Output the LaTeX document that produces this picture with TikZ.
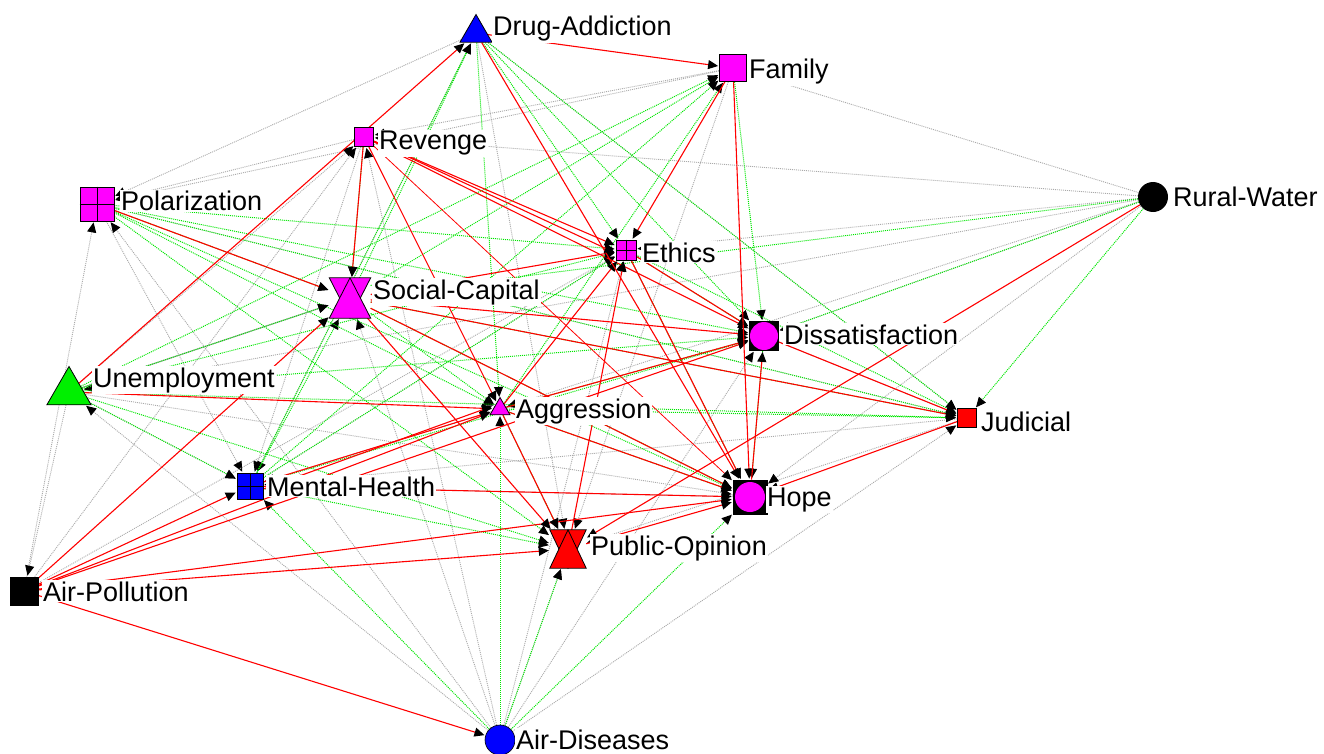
\documentclass[tikz,border=0pt]{standalone}
\usepackage{fontspec}
\setmainfont{Liberation Sans}
\usetikzlibrary{shapes.geometric,arrows.meta}
\pgfdeclarelayer{bg}
\pgfsetlayers{bg,main}
\definecolor{grn}{RGB}{0,230,0}
\definecolor{gry}{RGB}{170,170,170}
\definecolor{ugreen}{RGB}{0,240,0}
\definecolor{mag}{RGB}{255,0,255}
\definecolor{rd}{RGB}{255,0,0}
\definecolor{bl}{RGB}{0,0,255}
\begin{document}
\begin{tikzpicture}[x=1pt,y=-1pt,
  lbl/.style={anchor=base west,font=\fontsize{27}{30}\selectfont,fill=white,inner sep=1pt,text=black},
  sq/.style={draw=black,line width=0.8pt,rectangle,inner sep=0pt},
  tri/.style={draw=black,line width=0.8pt,regular polygon,regular polygon sides=3,inner sep=0pt},
  circ/.style={circle,inner sep=0pt},
  hg/.style={rectangle,inner sep=0pt},
  tipb/.style={-{Triangle[length=10pt,width=9pt,color=black]},shorten >=1pt},
  redE/.style={tipb,draw=rd,line width=1.1pt},
  grnE/.style={tipb,draw=grn,line width=1pt,dash pattern=on 1pt off 1pt},
  gryE/.style={tipb,draw=gry,line width=0.9pt,dash pattern=on 1pt off 1pt},
]
\useasboundingbox (0,0) rectangle (1324,754);
% ---------- node shapes ----------
\node[tri,fill=bl,minimum size=37pt] (DA) at (476,33) {};
\node[sq,fill=mag,minimum size=27pt] (FA) at (733,68) {};
\node[sq,fill=mag,minimum size=19pt] (RE) at (364,137) {};
\node[sq,fill=mag,minimum size=34pt] (PZ) at (97,204) {};
\draw[line width=0.8pt] (PZ.north) -- (PZ.south) (PZ.west) -- (PZ.east);
\node[circ,fill=black,minimum size=30pt] (RW) at (1153,197) {};
\node[sq,fill=mag,minimum size=20pt] (ET) at (626,250) {};
\draw[line width=0.8pt] (ET.north) -- (ET.south) (ET.west) -- (ET.east);
\node[hg,minimum width=41pt,minimum height=40pt] (SC) at (350,298) {};
\filldraw[fill=mag,draw=black,line width=0.8pt] (SC.north west) -- (SC.north east) -- (SC.south) -- cycle;
\filldraw[fill=mag,draw=black,line width=0.8pt] (SC.south west) -- (SC.south east) -- (SC.north) -- cycle;
\node[sq,fill=black,minimum size=29pt] (DI) at (764,336) {};
\node[circ,fill=mag,minimum size=28pt] (DIc) at (764,336) {};
\node[tri,fill=ugreen,minimum size=51pt] (UN) at (69,392) {};
\node[tri,fill=mag,minimum size=23pt] (AG) at (500,409) {};
\node[sq,fill=rd,minimum size=19pt] (JU) at (967,418) {};
\node[sq,fill=bl,minimum size=26pt] (MH) at (250,486) {};
\draw[line width=0.8pt] (MH.north) -- (MH.south) (MH.west) -- (MH.east);
\node[sq,fill=black,minimum size=34pt] (HO) at (750,497) {};
\node[circ,fill=mag,minimum size=30pt] (HOc) at (750,497) {};
\node[hg,minimum width=36pt,minimum height=38pt] (PO) at (568,549) {};
\filldraw[fill=rd,draw=black,line width=0.8pt] (PO.north west) -- (PO.north east) -- (PO.south) -- cycle;
\filldraw[fill=rd,draw=black,line width=0.8pt] (PO.south west) -- (PO.south east) -- (PO.north) -- cycle;
\node[sq,fill=black,minimum size=28pt] (AP) at (24,591) {};
\node[circ,draw=black,line width=0.6pt,fill=bl,minimum width=28pt,minimum height=30pt] (AD) at (500,740) {};
% ---------- labels ----------
\node[lbl] (DAl) at (492,36) {Drug-Addiction};
\node[lbl] (FAl) at (748,79) {Family};
\node[lbl] (REl) at (378,150) {Revenge};
\node[lbl] (PZl) at (120,211) {Polarization};
\node[lbl] (RWl) at (1172,206) {Rural-Water};
\node[lbl] (ETl) at (641,262) {Ethics};
\node[lbl] (SCl) at (372,299) {Social-Capital};
\node[lbl] (DIl) at (783,344) {Dissatisfaction};
\node[lbl] (UNl) at (92,387) {Unemployment};
\node[lbl] (AGl) at (515,418) {Aggression};
\node[lbl] (JUl) at (980,431) {Judicial};
\node[lbl] (MHl) at (266,496) {Mental-Health};
\node[lbl] (HOl) at (766,506) {Hope};
\node[lbl] (POl) at (590,555) {Public-Opinion};
\node[lbl] (APl) at (42,601) {Air-Pollution};
\node[lbl] (ADl) at (515,749) {Air-Diseases};
% ---------- edges ----------
\begin{pgfonlayer}{bg}
\foreach \a/\b in {AP/PZ,UN/AP,PZ/MH,DA/PZ,RE/PZ,FA/PZ,UN/MH,UN/HO,UN/RE,AD/RE,RW/RE,RE/MH,
  DA/PO,DA/JU,FA/RE,RW/FA,FA/PO,RW/ET,AD/ET,AD/SC,RW/DI,DI/JU,AD/DI,RW/AG,AD/JU,PZ/JU,JU/MH,
  JU/PO,RW/HO,HO/MH,AD/UN,AD/PZ,AP/RE,AP/ET,MH/ET,AD/PO,DA/MH,RW/UN,AG/MH}
  \draw[gryE] (\a) -- (\b);
\draw[tipb,draw=gry,line width=1.2pt] (UN) -- (SC);
\foreach \a/\b in {SC/DA,MH/DA,DA/AG,DA/DI,DA/ET,DA/JU,UN/FA,SC/FA,MH/FA,AG/FA,FA/DI,RE/SC,
  PZ/ET,UN/ET,MH/ET,ET/JU,ET/DI,SC/AG,SC/HO,SC/JU,MH/SC,RW/SC,PZ/DI,UN/DI,MH/DI,AG/DI,RW/DI,
  DI/HO,PZ/AG,AG/HO,AG/JU,AD/AG,AG/PO,UN/JU,PZ/JU,RW/JU,PZ/HO,AD/HO,ET/HO,UN/PO,PZ/PO,AD/PO,
  MH/PO,UN/MH,AD/MH,PZ/SC,UN/SC}
  \draw[grnE] (\a) -- (\b);
\foreach \a/\b in {AP/AD,AP/PO,AP/HO,AP/MH,AP/AG,AP/SC,AP/DI,UN/DA,UN/AG,MH/HO,MH/AG,PZ/SC,
  RE/SC,RE/ET,RE/AG,RE/DI,SC/ET,SC/DI,SC/JU,SC/HO,SC/PO,AG/ET,AG/DI,AG/HO,AG/PO,PO/ET,PO/HO,
  ET/HO,ET/DI,FA/ET,FA/HO,DA/FA,DA/HO,DI/JU,HO/DI,JU/HO,RW/PO}
  \draw[redE] (\a) -- (\b);
\draw[tipb,draw=rd,line width=0.8pt] (RE) -- (HO);
\draw[redE] ([yshift=-4pt]RE.east) -- ([yshift=-3pt]ET.west);
\draw[redE] ([yshift=-3pt]MH.east) -- ([yshift=3pt]AG.west);
\end{pgfonlayer}
\end{tikzpicture}
\end{document}
